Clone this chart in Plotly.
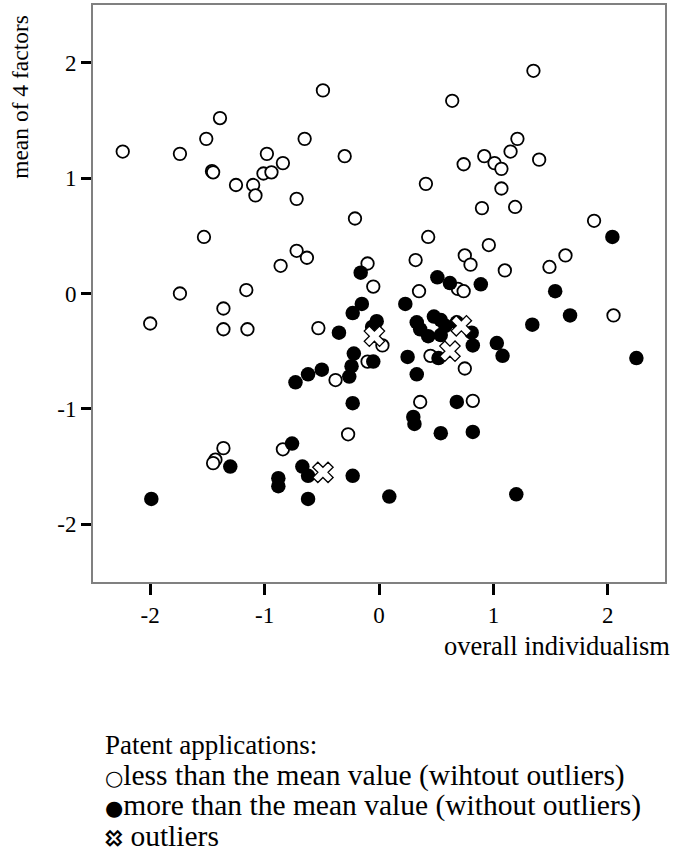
import plotly.graph_objects as go

# Patent applications below the mean (open circles)
less_x = [-2.24, -1.74, -1.51, -1.39, -1.46, -1.45, -1.25, -1.10, -1.08, -1.01, -0.94, -0.98, -0.84,
          -0.65, -0.49, -0.30, -0.72, -0.21, -1.53, -0.72, -0.63, -0.86, -0.10, -0.05, -1.74, -1.16,
          1.35, 0.64, 1.21, 1.15, 1.40, 0.92, 1.01, 1.07, 0.74, 0.41, 1.07, 0.90, 1.19, 1.88, 0.43,
          0.96, 0.75, 0.80, 0.32, 1.10, 1.49, 1.63, 0.35, 0.69, 0.74,
          -1.36, -2.00, -1.36, -1.15, -0.53, 0.03, -0.10, -0.38, -0.27, -0.84, -1.36, -1.43, -1.45,
          2.05, 0.45, 0.75, 0.36, 0.82]
less_y = [1.23, 1.21, 1.34, 1.52, 1.06, 1.05, 0.94, 0.94, 0.85, 1.04, 1.05, 1.21, 1.13,
          1.34, 1.76, 1.19, 0.82, 0.65, 0.49, 0.37, 0.31, 0.24, 0.26, 0.06, 0.00, 0.03,
          1.93, 1.67, 1.34, 1.23, 1.16, 1.19, 1.13, 1.08, 1.12, 0.95, 0.91, 0.74, 0.75, 0.63, 0.49,
          0.42, 0.33, 0.25, 0.29, 0.20, 0.23, 0.33, 0.02, 0.04, 0.02,
          -0.13, -0.26, -0.31, -0.31, -0.30, -0.45, -0.59, -0.75, -1.22, -1.35, -1.34, -1.44, -1.47,
          -0.19, -0.54, -0.65, -0.94, -0.93]

# Patent applications above the mean (filled circles)
more_x = [-0.16, 2.04, 0.51, 0.62, 0.89, 1.54,
          -0.15, -0.23, -0.35, -0.02, -0.06, -0.22, -0.05, -0.24, -0.26, -0.50, -0.62, -0.73, -0.23,
          -0.76, -1.30, -0.67, -0.62, -0.88, -0.88, -0.23, -1.99, -0.62, 0.09,
          0.23, 1.67, 1.34, 2.25, 0.33, 0.36, 0.43, 0.48, 0.54, 0.58, 0.68, 0.81, 0.82, 1.03, 1.08,
          0.25, 0.52, 0.33, 0.68, 0.30, 0.31, 0.54, 0.82, 1.20, 0.54]
more_y = [0.18, 0.49, 0.14, 0.09, 0.08, 0.02,
          -0.09, -0.17, -0.34, -0.24, -0.29, -0.52, -0.59, -0.63, -0.72, -0.66, -0.70, -0.77, -0.95,
          -1.30, -1.50, -1.50, -1.58, -1.60, -1.67, -1.58, -1.78, -1.78, -1.76,
          -0.09, -0.19, -0.27, -0.56, -0.25, -0.31, -0.37, -0.20, -0.23, -0.28, -0.25, -0.34, -0.45, -0.43, -0.54,
          -0.55, -0.56, -0.70, -0.94, -1.07, -1.13, -1.21, -1.20, -1.74, -0.36]

# Outliers
out_x = [-0.04, 0.62, 0.72, -0.49]
out_y = [-0.37, -0.50, -0.28, -1.55]

tick_vals = [-2, -1, 0, 1, 2]
tick_text = ["-2", "-1", "0", "1", "2"]

legend_title = "Patent applications:"
legend_less = "less than the mean value (wihtout outliers)"
legend_more = "more than the mean value (without outliers)"
legend_out = "outliers"

FONT = "Liberation Serif, Times New Roman, serif"

fig = go.Figure()
fig.add_trace(go.Scatter(
    x=less_x, y=less_y, mode="markers", name=legend_less,
    marker=dict(symbol="circle", size=12.5, color="white", line=dict(color="black", width=1.8)),
))
fig.add_trace(go.Scatter(
    x=more_x, y=more_y, mode="markers", name=legend_more,
    marker=dict(symbol="circle", size=14.5, color="black", line=dict(color="black", width=0)),
))
fig.add_trace(go.Scatter(
    x=out_x, y=out_y, mode="markers", name=legend_out,
    marker=dict(symbol="x", size=18, color="white", line=dict(color="black", width=1.3)),
))

axis_common = dict(
    range=[-2.5, 2.5], tickvals=tick_vals, ticktext=tick_text,
    ticks="outside", tickwidth=3, tickcolor="black",
    showline=True, linecolor="#808080", linewidth=2, mirror=True,
    showgrid=False, zeroline=False, automargin=False,
    tickfont=dict(family=FONT, size=23, color="black"),
)

leg_font = dict(family=FONT, size=29.5, color="black")
sym = "<span style='font-family:DejaVu Sans;font-size:21px'>{}</span>"
annotations = [
    dict(text="mean of 4 factors", xref="paper", yref="paper", x=-0.128, y=0.986,
         xanchor="center", yanchor="top", textangle=-90, showarrow=False,
         font=dict(family=FONT, size=23.5, color="black")),
    dict(text="overall individualism", xref="paper", yref="paper", x=1.012, y=-0.111,
         xanchor="right", yanchor="middle", showarrow=False,
         font=dict(family=FONT, size=26.5, color="black")),
    dict(text=legend_title, xref="paper", yref="paper", x=0.0175, y=-0.2825,
         xanchor="left", yanchor="middle", showarrow=False,
         font=dict(family=FONT, size=27, color="black")),
    dict(text=sym.format("○") + legend_less, xref="paper", yref="paper",
         x=0.0175, y=-0.336, xanchor="left", yanchor="middle", showarrow=False, font=leg_font),
    dict(text=sym.format("●") + legend_more, xref="paper", yref="paper",
         x=0.0175, y=-0.388, xanchor="left", yanchor="middle", showarrow=False, font=leg_font),
    dict(text="<span style='font-size:21px;font-weight:bold;fill:white;stroke:black;stroke-width:1.3px'>✖</span> " + legend_out,
         xref="paper", yref="paper",
         x=0.0175, y=-0.440, xanchor="left", yanchor="middle", showarrow=False, font=leg_font),
]

fig.update_layout(
    width=675, height=866,
    margin=dict(l=93, r=10, t=5, b=284, autoexpand=False),
    paper_bgcolor="white", plot_bgcolor="white",
    xaxis=dict(**axis_common, ticklen=11, ticklabelstandoff=0),
    yaxis=dict(**axis_common, ticklen=10),
    showlegend=False,
    annotations=annotations,
)

fig.write_html("out.html", config={"displayModeBar": False},
               post_script="document.body.style.margin='0';document.body.style.overflow='hidden';")
